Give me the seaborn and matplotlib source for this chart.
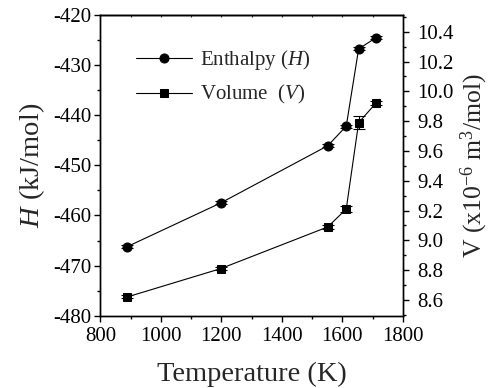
import numpy as np
import pandas as pd
import matplotlib
matplotlib.use("Agg")
import matplotlib.pyplot as plt
from matplotlib.ticker import MultipleLocator
import seaborn as sns

# ---- data ----
temperature = [889, 1198, 1552, 1613, 1654, 1711]
enthalpy = [-466.2, -457.5, -446.1, -442.2, -426.8, -424.6]
enthalpy_err = [0.3, 0.3, 0.3, 0.3, 0.3, 0.3]
volume = [8.62, 8.81, 9.09, 9.21, 9.79, 9.92]
volume_err = [0.01, 0.01, 0.015, 0.02, 0.045, 0.015]

x_ticks = [800, 1000, 1200, 1400, 1600, 1800]
h_ticks = [-480, -470, -460, -450, -440, -430, -420]
v_ticks = [8.6, 8.8, 9.0, 9.2, 9.4, 9.6, 9.8, 10.0, 10.2, 10.4]

df = pd.DataFrame({"T": temperature, "H": enthalpy, "V": volume})

sns.set_theme(style="ticks")
plt.rcParams["font.family"] = ["Liberation Serif", "DejaVu Serif"]
plt.rcParams["mathtext.fontset"] = "custom"
plt.rcParams["mathtext.rm"] = "Liberation Serif"
plt.rcParams["mathtext.it"] = "Liberation Serif:italic"
plt.rcParams["axes.unicode_minus"] = False

fig = plt.figure(figsize=(4.9, 3.88), dpi=100)
ax = fig.add_axes([0.205, 0.186, 0.617, 0.776])
ax2 = ax.twinx()

sns.lineplot(data=df, x="T", y="H", ax=ax, color="black", marker="o",
             markersize=6.5, linewidth=0.8, markeredgecolor="black",
             label="Enthalpy ($H$)", legend=False)
ax.errorbar(temperature, enthalpy, yerr=enthalpy_err, fmt="none",
            ecolor="black", elinewidth=0.8, capsize=4.5, capthick=0.8)

sns.lineplot(data=df, x="T", y="V", ax=ax2, color="black", marker="s",
             markersize=5.5, linewidth=0.8, markeredgecolor="black",
             label="Volume  ($V$)", legend=False)
ax2.errorbar(temperature, volume, yerr=volume_err, fmt="none",
             ecolor="black", elinewidth=0.8, capsize=4.5, capthick=0.8)

ax.set_xlim(800, 1800)
ax.set_ylim(-480, -420)
ax2.set_ylim(8.493, 10.514)

ax.set_xticks(x_ticks)
ax.set_yticks(h_ticks)
ax2.set_yticks(v_ticks)
ax2.set_yticklabels([f"{v:.1f}" for v in v_ticks])
ax.xaxis.set_minor_locator(MultipleLocator(100))
ax.yaxis.set_minor_locator(MultipleLocator(5))
ax2.yaxis.set_minor_locator(MultipleLocator(0.1))

fs_tick = 15
fs_label = 20.5
for a in (ax, ax2):
    a.tick_params(which="major", direction="out", length=4.2, width=1,
                  labelsize=fs_tick, color="black", labelcolor="black", pad=2)
    a.tick_params(which="minor", direction="out", length=2.3, width=1,
                  color="black")
    for s in a.spines.values():
        s.set_linewidth(1.0)
        s.set_color("black")
        s.set_visible(True)
ax.tick_params(axis="x", which="major", pad=3.5)
ax2.tick_params(axis="y", which="major", pad=6)

top = ax.secondary_xaxis("top")
top.set_xticks(x_ticks)
top.xaxis.set_minor_locator(MultipleLocator(100))
top.tick_params(which="both", direction="in", length=1.5, width=0.8,
                labeltop=False)
top.spines["top"].set_linewidth(1.0)

ax.set_xlabel("Temperature (K)", fontsize=fs_label, labelpad=12)
ax.set_ylabel("$H$ (kJ/mol)", fontsize=fs_label, labelpad=5)
ax2.set_ylabel("V (x10$^{-6}$ m$^{3}$/mol)", fontsize=18.5, labelpad=3.5)

h1, l1 = ax.get_legend_handles_labels()
h2, l2 = ax2.get_legend_handles_labels()
leg = ax2.legend(h1 + h2, l1 + l2, loc="upper left",
                 bbox_to_anchor=(0.118, 0.89), frameon=False,
                 fontsize=fs_tick, handlelength=2.7, handletextpad=0.35,
                 labelspacing=0.55, borderpad=0, borderaxespad=0)

fig.savefig("out.png", dpi=100)
